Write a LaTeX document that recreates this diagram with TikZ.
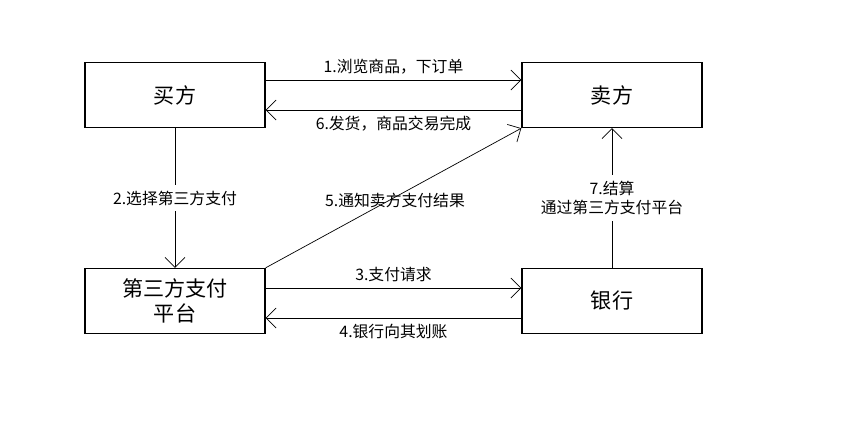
\documentclass[tikz,border=0pt]{standalone}
\usepackage{fontspec}
\setmainfont{Noto Sans CJK SC}
\usetikzlibrary{arrows.meta}
\begin{document}
\begin{tikzpicture}[x=0.02cm, y=-0.02cm, font=\small,
    box/.style = {draw, thick, minimum width=3.6cm, minimum height=1.3cm, align=center, font=\large},
    flow/.style = {thin, -{Straight Barb[length=2mm]}}]
        \useasboundingbox (0,0) rectangle (866,440);
        
        \node[box] (buyer) at (175,95) {买方};
        \node[box] (seller) at (612,95) {卖方};
        \node[box] (pay) at (175,301) {第三方支付\\平台};
        \node[box] (bank) at (612,301) {银行};
        
        \draw[flow] (buyer.east |- 0,80) -- node[above]{1.浏览商品，下订单} (seller.west |- 0,80);
        \draw[flow] (seller.west |- 0,110) -- node[below]{6.发货，商品交易完成} (buyer.east |- 0,110);
        \draw[flow] (buyer) -- node[fill=white]{2.选择第三方支付} (pay);
        \draw[flow] (pay.north east) -- (seller.south west);
        \node (n5) at (395,200) {5.通知卖方支付结果};
        \draw[flow] (pay.east |- 0,288) -- node[above]{3.支付请求} (bank.west |- 0,288);
        \draw[flow] (bank.west |- 0,318) -- node[below]{4.银行向其划账} (pay.east |- 0,318);
        \draw[flow] (bank) -- node[fill=white, align=center]{7.结算\\通过第三方支付平台} (seller);
    \end{tikzpicture}
\end{document}
